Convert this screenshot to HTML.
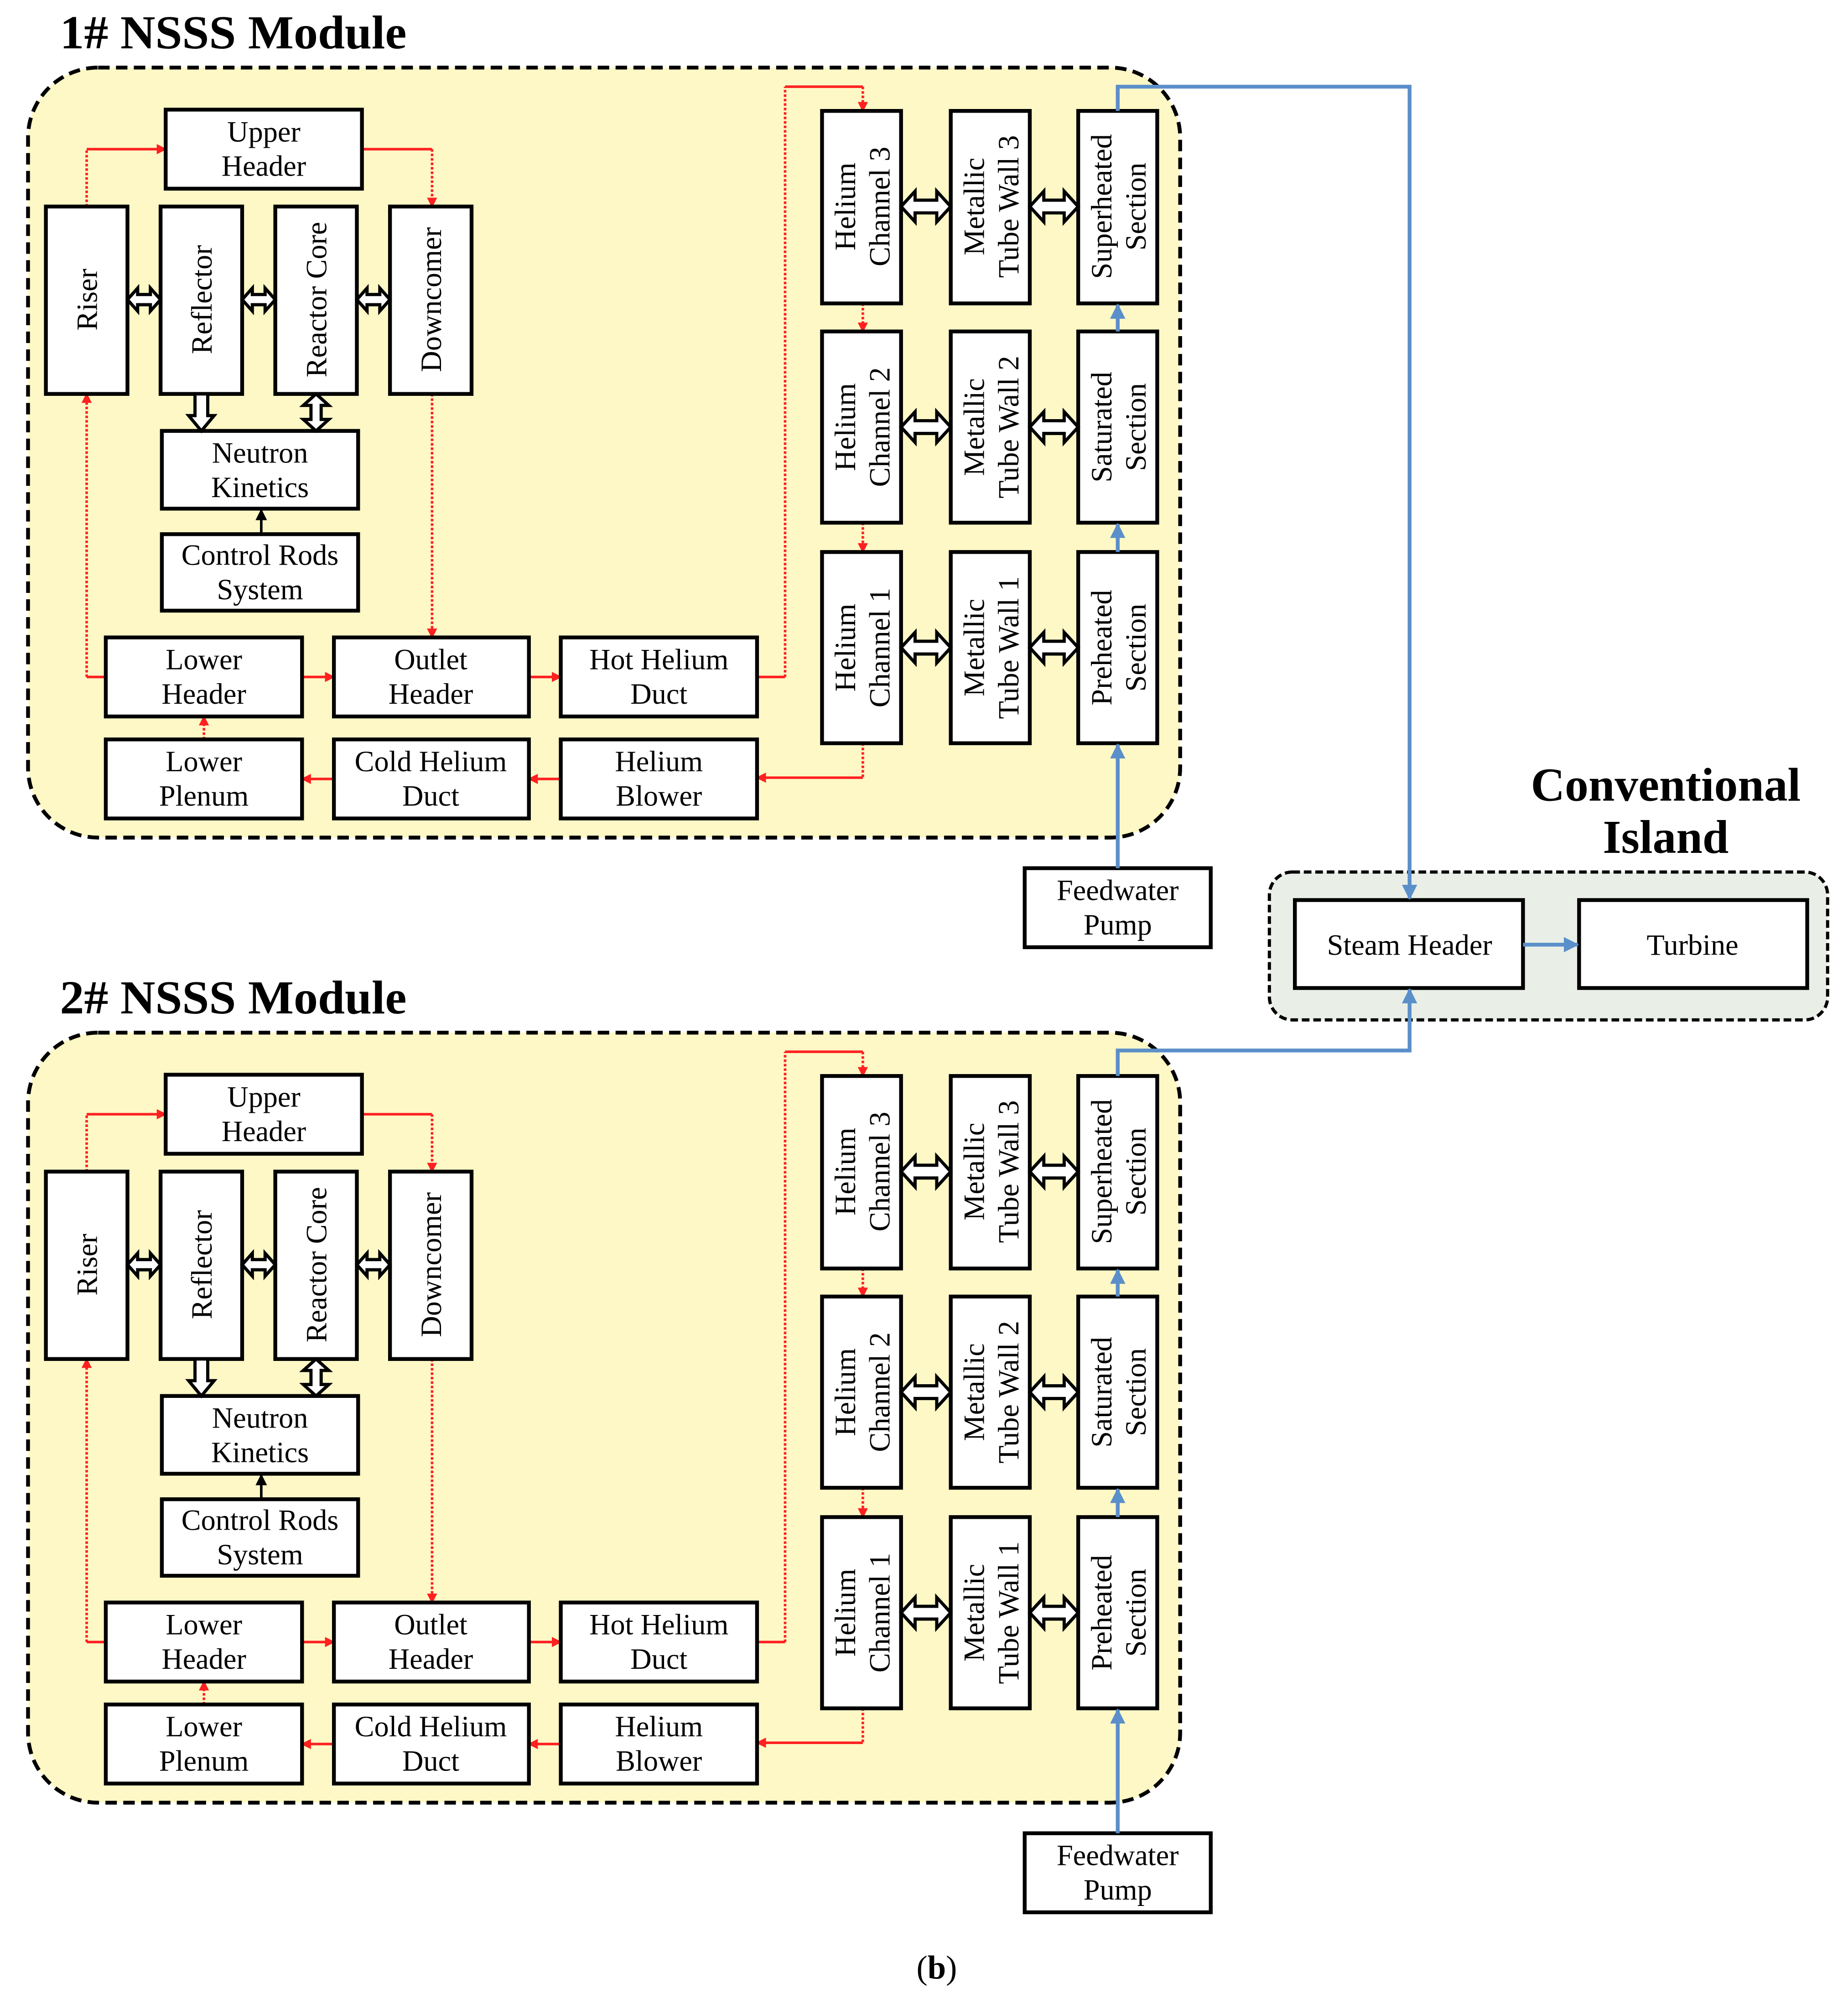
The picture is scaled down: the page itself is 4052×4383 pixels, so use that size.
<!DOCTYPE html>
<html><head><meta charset="utf-8"><style>
html,body{margin:0;padding:0;background:#fff}
svg{display:block}
text{font-family:"Liberation Serif",serif;fill:#000}
</style></head><body>
<svg width="4052" height="4383" viewBox="0 0 1450 1568" preserveAspectRatio="none" xmlns="http://www.w3.org/2000/svg" xmlns:xlink="http://www.w3.org/1999/xlink">
<defs>
<marker id="ra" markerWidth="8" markerHeight="8" refX="7" refY="4" orient="auto" markerUnits="userSpaceOnUse"><path d="M0,0 L8,4 L0,8 Z" fill="#ff2020"/></marker>
<marker id="ba" markerWidth="12" markerHeight="12" refX="11" refY="6" orient="auto" markerUnits="userSpaceOnUse"><path d="M0,0 L12,6 L0,12 Z" fill="#5b8fc9"/></marker>
<marker id="ka" markerWidth="9" markerHeight="9" refX="8" refY="4.5" orient="auto" markerUnits="userSpaceOnUse"><path d="M0,0 L9,4.5 L0,9 Z" fill="#000"/></marker>
<g id="mod">
<rect x="22" y="53" width="904" height="604" rx="55" ry="55" fill="#fdf8c6" stroke="#000" stroke-width="3" stroke-dasharray="9 5"/>
<g fill="none" stroke="#ff2020" stroke-width="2">
<path d="M68,162 V117" stroke-dasharray="2 1.5"/><path d="M68,117 H130" marker-end="url(#ra)"/>
<path d="M284,117 H339"/><path d="M339,117 V162" stroke-dasharray="2 1.5" marker-end="url(#ra)"/>
<path d="M339,309 V500" stroke-dasharray="2 1.5" marker-end="url(#ra)"/>
<path d="M83,531 H68"/><path d="M68,531 V309" stroke-dasharray="2 1.5" marker-end="url(#ra)"/>
<path d="M237,531 H262" marker-end="url(#ra)"/>
<path d="M415,531 H440" marker-end="url(#ra)"/>
<path d="M594,531 H616"/><path d="M616,531 V68" stroke-dasharray="2 1.5"/><path d="M616,68 H677"/><path d="M677,68 V87" stroke-dasharray="2 1.5" marker-end="url(#ra)"/>
<path d="M677,238 V260" stroke-dasharray="2 1.5" marker-end="url(#ra)"/>
<path d="M677,410 V433" stroke-dasharray="2 1.5" marker-end="url(#ra)"/>
<path d="M677,583 V610" stroke-dasharray="2 1.5"/><path d="M677,610 H594" marker-end="url(#ra)"/>
<path d="M440,611 H415" marker-end="url(#ra)"/>
<path d="M262,611 H237" marker-end="url(#ra)"/>
<path d="M160,580 V562" stroke-dasharray="2 1.5" marker-end="url(#ra)"/>
</g>
<g fill="#fff" stroke="#000" stroke-width="3">
<rect x="130" y="86" width="154" height="62"/>
<rect x="36" y="162" width="64" height="147"/>
<rect x="126" y="162" width="64" height="147"/>
<rect x="216" y="162" width="64" height="147"/>
<rect x="306" y="162" width="64" height="147"/>
<rect x="127" y="338" width="154" height="61"/>
<rect x="127" y="419" width="154" height="60"/>
<rect x="83" y="500" width="154" height="62"/>
<rect x="262" y="500" width="153" height="62"/>
<rect x="440" y="500" width="154" height="62"/>
<rect x="83" y="580" width="154" height="62"/>
<rect x="262" y="580" width="153" height="62"/>
<rect x="440" y="580" width="154" height="62"/>
<rect x="645" y="87" width="62" height="151"/><rect x="746" y="87" width="62" height="151"/><rect x="846" y="87" width="62" height="151"/>
<rect x="645" y="260" width="62" height="150"/><rect x="746" y="260" width="62" height="150"/><rect x="846" y="260" width="62" height="150"/>
<rect x="645" y="433" width="62" height="150"/><rect x="746" y="433" width="62" height="150"/><rect x="846" y="433" width="62" height="150"/>
<rect x="804" y="681" width="146" height="62"/>
</g>
<g fill="#fff" stroke="#000" stroke-width="2.5" stroke-linejoin="miter">
<polygon points="100,235 108,226 108,231 118,231 118,226 126,235 118,244 118,239 108,239 108,244"/>
<polygon points="190,235 198,226 198,231 208,231 208,226 216,235 208,244 208,239 198,239 198,244"/>
<polygon points="280,235 288,226 288,231 298,231 298,226 306,235 298,244 298,239 288,239 288,244"/>
<polygon points="153,309 163,309 163,326 168,326 158,338 148,326 153,326"/>
<polygon points="248,309 258,318 252,318 252,329 258,329 248,338 238,329 244,329 244,318 238,318"/>
<polygon points="707,162 718,150 718,157 735,157 735,150 746,162 735,174 735,167 718,167 718,174"/>
<polygon points="808,162 819,150 819,157 835,157 835,150 846,162 835,174 835,167 819,167 819,174"/>
<polygon points="707,335 718,323 718,330 735,330 735,323 746,335 735,347 735,340 718,340 718,347"/>
<polygon points="808,335 819,323 819,330 835,330 835,323 846,335 835,347 835,340 819,340 819,347"/>
<polygon points="707,508 718,496 718,503 735,503 735,496 746,508 735,520 735,513 718,513 718,520"/>
<polygon points="808,508 819,496 819,503 835,503 835,496 846,508 835,520 835,513 819,513 819,520"/>
</g>
<path d="M205,419 V400" stroke="#000" stroke-width="2" marker-end="url(#ka)"/>
<g stroke="#5b8fc9" stroke-width="3" fill="none">
<path d="M877,681 V584" marker-end="url(#ba)"/>
<path d="M877,433 V411" marker-end="url(#ba)"/>
<path d="M877,260 V239" marker-end="url(#ba)"/>
</g>
</g>
</defs>
<use xlink:href="#mod" href="#mod"/>
<use xlink:href="#mod" href="#mod" y="757"/>
<rect x="996" y="684" width="438" height="116" rx="18" ry="18" fill="#e9efe6" stroke="#000" stroke-width="2.5" stroke-dasharray="6 3"/>
<g fill="#fff" stroke="#000" stroke-width="3">
<rect x="1016" y="706" width="179" height="69"/>
<rect x="1239" y="706" width="179" height="69"/>
</g>
<g stroke="#5b8fc9" stroke-width="3" fill="none">
<path d="M877,87 V68 H1106 V705" marker-end="url(#ba)"/>
<path d="M877,844 V824 H1106 V776" marker-end="url(#ba)"/>
<path d="M1195,741 H1238" marker-end="url(#ba)"/>
</g>
<g font-weight="bold" font-size="37">
<text x="47" y="38" textLength="272" lengthAdjust="spacingAndGlyphs">1# NSSS Module</text>
<text x="47" y="795" textLength="272" lengthAdjust="spacingAndGlyphs">2# NSSS Module</text>
<text x="1307" y="628" text-anchor="middle">Conventional</text>
<text x="1307" y="669" text-anchor="middle">Island</text>
</g>
<text x="735" y="1552" text-anchor="middle" font-size="26">(<tspan font-weight="bold">b</tspan>)</text>
<g font-size="23" text-anchor="middle">
<text x="1106" y="749">Steam Header</text>
<text x="1328" y="749">Turbine</text>
</g>
<g font-size="23" text-anchor="middle">
<text x="207" y="111">Upper</text><text x="207" y="138">Header</text>
<text transform="translate(68,235) rotate(-90)" y="8">Riser</text>
<text transform="translate(158,235) rotate(-90)" y="8">Reflector</text>
<text transform="translate(248,235) rotate(-90)" y="8">Reactor Core</text>
<text transform="translate(338,235) rotate(-90)" y="8">Downcomer</text>
<text x="204" y="363">Neutron</text><text x="204" y="390">Kinetics</text>
<text x="204" y="443">Control Rods</text><text x="204" y="470">System</text>
<text x="160" y="525">Lower</text><text x="160" y="552">Header</text>
<text x="338" y="525">Outlet</text><text x="338" y="552">Header</text>
<text x="517" y="525">Hot Helium</text><text x="517" y="552">Duct</text>
<text x="160" y="605">Lower</text><text x="160" y="632">Plenum</text>
<text x="338" y="605">Cold Helium</text><text x="338" y="632">Duct</text>
<text x="517" y="605">Helium</text><text x="517" y="632">Blower</text>
<text transform="translate(676,162) rotate(-90)"><tspan x="0" y="-5">Helium</tspan><tspan x="0" y="22">Channel 3</tspan></text>
<text transform="translate(777,162) rotate(-90)"><tspan x="0" y="-5">Metallic</tspan><tspan x="0" y="22">Tube Wall 3</tspan></text>
<text transform="translate(877,162) rotate(-90)"><tspan x="0" y="-5">Superheated</tspan><tspan x="0" y="22">Section</tspan></text>
<text transform="translate(676,335) rotate(-90)"><tspan x="0" y="-5">Helium</tspan><tspan x="0" y="22">Channel 2</tspan></text>
<text transform="translate(777,335) rotate(-90)"><tspan x="0" y="-5">Metallic</tspan><tspan x="0" y="22">Tube Wall 2</tspan></text>
<text transform="translate(877,335) rotate(-90)"><tspan x="0" y="-5">Saturated</tspan><tspan x="0" y="22">Section</tspan></text>
<text transform="translate(676,508) rotate(-90)"><tspan x="0" y="-5">Helium</tspan><tspan x="0" y="22">Channel 1</tspan></text>
<text transform="translate(777,508) rotate(-90)"><tspan x="0" y="-5">Metallic</tspan><tspan x="0" y="22">Tube Wall 1</tspan></text>
<text transform="translate(877,508) rotate(-90)"><tspan x="0" y="-5">Preheated</tspan><tspan x="0" y="22">Section</tspan></text>
<text x="877" y="706">Feedwater</text><text x="877" y="733">Pump</text>
</g>
<g transform="translate(0,757)" font-size="23" text-anchor="middle">
<text x="207" y="111">Upper</text><text x="207" y="138">Header</text>
<text transform="translate(68,235) rotate(-90)" y="8">Riser</text>
<text transform="translate(158,235) rotate(-90)" y="8">Reflector</text>
<text transform="translate(248,235) rotate(-90)" y="8">Reactor Core</text>
<text transform="translate(338,235) rotate(-90)" y="8">Downcomer</text>
<text x="204" y="363">Neutron</text><text x="204" y="390">Kinetics</text>
<text x="204" y="443">Control Rods</text><text x="204" y="470">System</text>
<text x="160" y="525">Lower</text><text x="160" y="552">Header</text>
<text x="338" y="525">Outlet</text><text x="338" y="552">Header</text>
<text x="517" y="525">Hot Helium</text><text x="517" y="552">Duct</text>
<text x="160" y="605">Lower</text><text x="160" y="632">Plenum</text>
<text x="338" y="605">Cold Helium</text><text x="338" y="632">Duct</text>
<text x="517" y="605">Helium</text><text x="517" y="632">Blower</text>
<text transform="translate(676,162) rotate(-90)"><tspan x="0" y="-5">Helium</tspan><tspan x="0" y="22">Channel 3</tspan></text>
<text transform="translate(777,162) rotate(-90)"><tspan x="0" y="-5">Metallic</tspan><tspan x="0" y="22">Tube Wall 3</tspan></text>
<text transform="translate(877,162) rotate(-90)"><tspan x="0" y="-5">Superheated</tspan><tspan x="0" y="22">Section</tspan></text>
<text transform="translate(676,335) rotate(-90)"><tspan x="0" y="-5">Helium</tspan><tspan x="0" y="22">Channel 2</tspan></text>
<text transform="translate(777,335) rotate(-90)"><tspan x="0" y="-5">Metallic</tspan><tspan x="0" y="22">Tube Wall 2</tspan></text>
<text transform="translate(877,335) rotate(-90)"><tspan x="0" y="-5">Saturated</tspan><tspan x="0" y="22">Section</tspan></text>
<text transform="translate(676,508) rotate(-90)"><tspan x="0" y="-5">Helium</tspan><tspan x="0" y="22">Channel 1</tspan></text>
<text transform="translate(777,508) rotate(-90)"><tspan x="0" y="-5">Metallic</tspan><tspan x="0" y="22">Tube Wall 1</tspan></text>
<text transform="translate(877,508) rotate(-90)"><tspan x="0" y="-5">Preheated</tspan><tspan x="0" y="22">Section</tspan></text>
<text x="877" y="706">Feedwater</text><text x="877" y="733">Pump</text>
</g>
</svg>
</body></html>
